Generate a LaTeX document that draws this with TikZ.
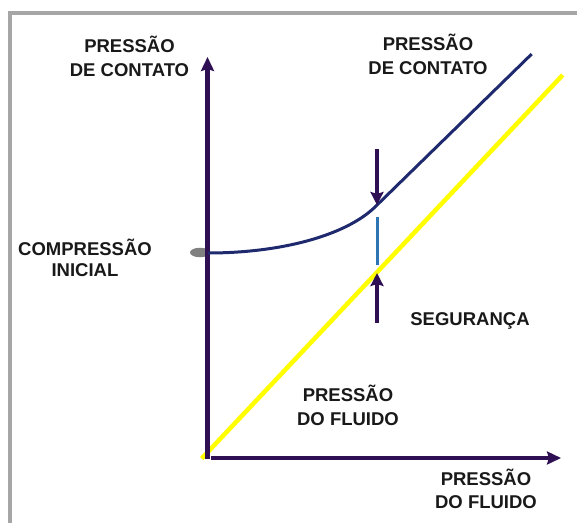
\documentclass[tikz,border=0pt]{standalone}
\usepackage{fontspec}
\setmainfont{Liberation Sans}
\usetikzlibrary{arrows.meta,shapes.geometric}
\definecolor{axiscol}{RGB}{48,16,84}
\definecolor{curvecol}{RGB}{31,42,110}
\definecolor{segcol}{RGB}{46,117,182}
\definecolor{fluidcol}{RGB}{255,255,0}
\definecolor{dotcol}{RGB}{128,128,128}
\definecolor{framecol}{RGB}{166,166,166}
\tikzset{
  lbl/.style={anchor=base, inner sep=0pt, font=\fontsize{18.5}{22}\selectfont\bfseries, text=black!90},
  axisline/.style={draw=axiscol, line width=4.5pt, -{Stealth[length=14pt,width=13pt,inset=2pt]}},
  markarrow/.style={draw=axiscol, line width=4pt, -{Stealth[length=13pt,width=13pt,inset=2pt]}},
  dotshape/.style={ellipse, fill=dotcol, draw=none, inner sep=0pt, minimum width=20pt, minimum height=9.5pt},
}
\begin{document}
\begin{tikzpicture}[x=1pt,y=-1pt]
\useasboundingbox (0,0) rectangle (577,522);
% frame
\coordinate (fA) at (10,524);
\coordinate (fB) at (10,13);
\coordinate (fC) at (579,13);
\draw[framecol, line width=3.5pt] (fA) -- (fB) -- (fC);
% points
\coordinate (O) at (207.5,459);
\coordinate (ytip) at (207.5,57);
\coordinate (xstart) at (211,458);
\coordinate (xtip) at (561,458);
\coordinate (yA) at (201.7,458.5);
\coordinate (yB) at (562.7,75);
\coordinate (c0) at (208,253);
\coordinate (knee) at (375,207);
\coordinate (cEnd) at (531.7,54);
\coordinate (dTop) at (377,149);
\coordinate (dTip) at (377,205);
\coordinate (uBot) at (377,323);
\coordinate (uTip) at (377,273);
\coordinate (sTop) at (377,217);
\coordinate (sBot) at (377,265);
% fluid pressure line
\draw[fluidcol, line width=4.5pt] (yA) -- (yB);
% initial compression dot
\node[dotshape] (dot) at (200,252.5) {};
% axes
\draw[axisline] (O) -- (ytip);
\draw[axisline] (xstart) -- (xtip);
% contact pressure curve
\draw[curvecol, line width=3pt] (c0) .. controls (280,253) and (345,236) .. (knee) -- (cEnd);
% safety margin
\draw[segcol, line width=3pt] (sTop) -- (sBot);
\draw[markarrow] (dTop) -- (dTip);
\draw[markarrow] (uBot) -- (uTip);
% labels
\node[lbl] (lcA) at (129.5,52.5) {PRESSÃO};
\node[lbl] (lcB) at (129.5,76) {DE CONTATO};
\node[lbl] (rcA) at (428,50.7) {PRESSÃO};
\node[lbl] (rcB) at (428,74.3) {DE CONTATO};
\node[lbl] (ciA) at (85,255.3) {COMPRESSÃO};
\node[lbl] (ciB) at (85,276) {INICIAL};
\node[lbl] (seg) at (470,325.5) {SEGURANÇA};
\node[lbl] (mfA) at (348,401.7) {PRESSÃO};
\node[lbl] (mfB) at (348,425) {DO FLUIDO};
\node[lbl] (bfA) at (486,485) {PRESSÃO};
\node[lbl] (bfB) at (486,508.3) {DO FLUIDO};
\end{tikzpicture}
\end{document}
